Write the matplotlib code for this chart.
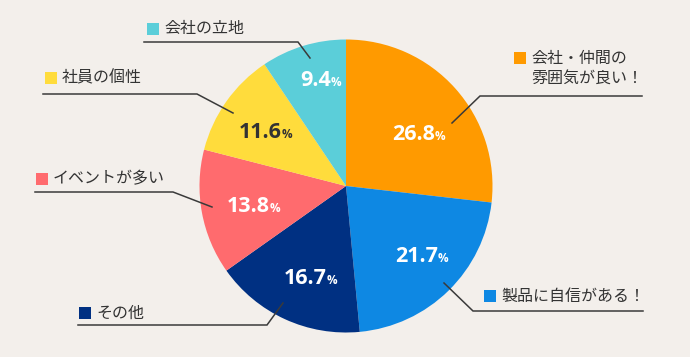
import matplotlib.pyplot as plt
from matplotlib.patches import Rectangle

# data (clockwise from 12 o'clock)
labels = ['会社・仲間の\n雰囲気が良い！', '製品に自信がある！', 'その他',
          'イベントが多い', '社員の個性', '会社の立地']
values = [26.8, 21.7, 16.7, 13.8, 11.6, 9.4]
colors = ['#FF9A00', '#0E88E3', '#003082', '#FF6B6E', '#FFDC3C', '#5BCED9']
value_colors = ['white', 'white', 'white', 'white', '#333333', 'white']

jp = ['Noto Sans CJK JP', 'DejaVu Sans']
bg = '#F3EFEB'

fig = plt.figure(figsize=(6.9, 3.57), dpi=100, facecolor=bg)
ax = fig.add_axes([0, 0, 1, 1])
ax.set_facecolor(bg)

# pixel coordinates, y going down
cx, cy, r = 346, 186, 146.5
ax.pie(values, colors=colors, startangle=-90, counterclock=True,
       center=(cx, cy), radius=r, wedgeprops=dict(linewidth=0))
ax.set_xlim(0, 690)
ax.set_ylim(357, 0)
ax.set_aspect('equal')
ax.axis('off')

# percentage labels: right edge of number
num_pos = [(435, 134), (438, 257), (327, 279), (270, 206), (282, 132), (331, 81)]
for v, (x, y), c in zip(values, num_pos, value_colors):
    ax.text(x, y, f'{v:.1f}', ha='right', va='center', color=c,
            fontsize=15.5, fontweight='bold', family='Open Sans')
    ax.text(x - 0.5, y + 2, '%', ha='left', va='center', color=c,
            fontsize=8.5, fontweight='bold', family='Open Sans')

# leader lines
leaders = [
    [(452, 123), (480, 96), (642, 96)],
    [(444, 283), (473, 311), (643, 311)],
    [(283, 303), (267, 325), (78, 325)],
    [(212, 207), (173, 192), (35, 192)],
    [(233, 113), (197, 94), (43, 94)],
    [(310, 58), (298, 42), (144, 42)],
]
for pts in leaders:
    xs, ys = zip(*pts)
    ax.plot(xs, ys, color='#3a3a3a', lw=1.1, solid_joinstyle='miter')

# category labels with colour squares
label_pos = [(514, 58), (484, 296), (79, 313), (36, 179), (45, 78), (147, 29)]
for lab, (x, y), c in zip(labels, label_pos, colors):
    ax.add_patch(Rectangle((x, y - 6), 12, 12, color=c, lw=0))
    lines = lab.split('\n')
    for i, line in enumerate(lines):
        ax.text(x + 17, y + i * 21, line, ha='left', va='center',
                color='#333333', fontsize=11.5, family=jp)

fig.savefig('out.png', dpi=100, facecolor=bg)
